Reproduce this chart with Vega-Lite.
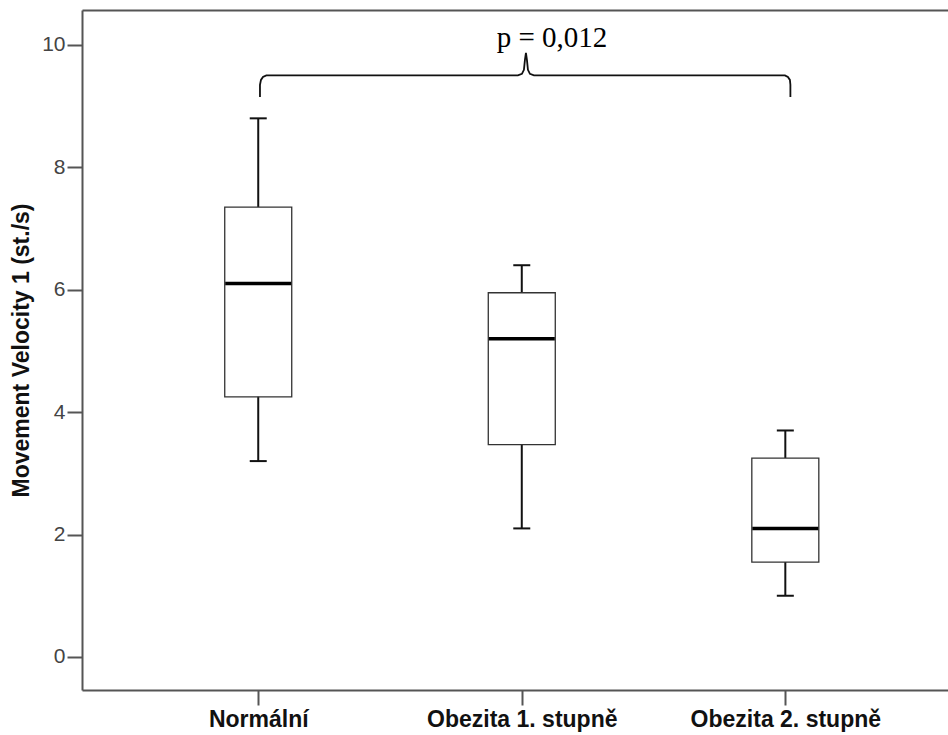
{
  "$schema": "https://vega.github.io/schema/vega-lite/v6.json",
  "width": 866,
  "height": 680,
  "autosize": {"type": "none"},
  "padding": {"left": 82, "top": 10, "right": 0, "bottom": 45},
  "background": "white",
  "config": {"view": {"stroke": null}},
  "datasets": {
    "boxes": [
      {"group": "Normální", "low": 3.2, "q1": 4.25, "median": 6.1, "q3": 7.35, "high": 8.8},
      {"group": "Obezita 1. stupně", "low": 2.1, "q1": 3.47, "median": 5.2, "q3": 5.95, "high": 6.4},
      {"group": "Obezita 2. stupně", "low": 1.0, "q1": 1.55, "median": 2.1, "q3": 3.25, "high": 3.7}
    ],
    "brace": [
      {"i": 1, "bx": 1.0075, "by": 9.15},
      {"i": 2, "bx": 1.0075, "by": 9.346},
      {"i": 3, "bx": 1.0113, "by": 9.428},
      {"i": 4, "bx": 1.0189, "by": 9.477},
      {"i": 5, "bx": 1.0315, "by": 9.502},
      {"i": 6, "bx": 1.9866, "by": 9.502},
      {"i": 7, "bx": 2.0018, "by": 9.526},
      {"i": 8, "bx": 2.0094, "by": 9.592},
      {"i": 9, "bx": 2.0132, "by": 9.755},
      {"i": 10, "bx": 2.017, "by": 9.869},
      {"i": 11, "bx": 2.0208, "by": 9.755},
      {"i": 12, "bx": 2.0246, "by": 9.592},
      {"i": 13, "bx": 2.0322, "by": 9.526},
      {"i": 14, "bx": 2.0474, "by": 9.502},
      {"i": 15, "bx": 3.0, "by": 9.502},
      {"i": 16, "bx": 3.0113, "by": 9.477},
      {"i": 17, "bx": 3.0189, "by": 9.428},
      {"i": 18, "bx": 3.0208, "by": 9.346},
      {"i": 19, "bx": 3.0208, "by": 9.15}
    ],
    "label": [
      {"bx": 2.1157, "by": 9.967, "text": "p = 0,012"}
    ]
  },
  "layer": [
    {
      "data": {"name": "boxes"},
      "layer": [
        {
          "mark": {"type": "rule", "color": "#111", "strokeWidth": 2},
          "encoding": {
            "x": {
              "field": "group", "type": "nominal", "sort": null,
              "scale": {"type": "point", "padding": 0.643, "align": 0.52},
              "axis": {
                "title": null, "labelAngle": 0, "orient": "bottom",
                "labelFont": "Liberation Sans", "labelFontWeight": "bold", "labelFontSize": 23,
                "labelColor": "#111", "labelPadding": 3, "labelLimit": 0,
                "tickSize": 15, "tickWidth": 2, "tickColor": "#555",
                "domainColor": "#555", "domainWidth": 2, "grid": false
              }
            },
            "y": {
              "field": "low", "type": "quantitative",
              "scale": {"domain": [-0.54, 10.57], "nice": false, "zero": false},
              "axis": {
                "title": "Movement Velocity 1 (st./s)",
                "titleFont": "Liberation Sans", "titleFontWeight": "bold", "titleFontSize": 23,
                "titleColor": "#111", "titlePadding": 8,
                "values": [0, 2, 4, 6, 8, 10], "format": "d",
                "labelFont": "Liberation Sans", "labelFontSize": 21, "labelColor": "#444",
                "labelPadding": 2, "tickSize": 15, "tickWidth": 2, "tickColor": "#555",
                "domainColor": "#555", "domainWidth": 2, "grid": false
              }
            },
            "y2": {"field": "high"}
          }
        },
        {
          "mark": {"type": "bar", "fill": "white", "stroke": "#333", "strokeWidth": 1.3, "size": 67},
          "encoding": {
            "x": {"field": "group", "type": "nominal", "sort": null, "scale": {"type": "point", "padding": 0.643, "align": 0.52}},
            "y": {"field": "q1", "type": "quantitative", "axis": {"title": "Movement Velocity 1 (st./s)"}},
            "y2": {"field": "q3"}
          }
        },
        {
          "mark": {"type": "tick", "color": "#000", "thickness": 3.5, "size": 66, "opacity": 1},
          "encoding": {
            "x": {"field": "group", "type": "nominal", "sort": null, "scale": {"type": "point", "padding": 0.643, "align": 0.52}},
            "y": {"field": "median", "type": "quantitative", "axis": {"title": "Movement Velocity 1 (st./s)"}}
          }
        },
        {
          "mark": {"type": "tick", "color": "#111", "thickness": 2, "size": 17, "opacity": 1},
          "encoding": {
            "x": {"field": "group", "type": "nominal", "sort": null, "scale": {"type": "point", "padding": 0.643, "align": 0.52}},
            "y": {"field": "low", "type": "quantitative", "axis": {"title": "Movement Velocity 1 (st./s)"}}
          }
        },
        {
          "mark": {"type": "tick", "color": "#111", "thickness": 2, "size": 17, "opacity": 1},
          "encoding": {
            "x": {"field": "group", "type": "nominal", "sort": null, "scale": {"type": "point", "padding": 0.643, "align": 0.52}},
            "y": {"field": "high", "type": "quantitative", "axis": {"title": "Movement Velocity 1 (st./s)"}}
          }
        }
      ]
    },
    {
      "layer": [
        {
          "data": {"name": "brace"},
          "mark": {"type": "line", "color": "#111", "strokeWidth": 1.8, "interpolate": "linear"},
          "encoding": {
            "x": {
              "field": "bx", "type": "quantitative",
              "scale": {"domain": [0.332, 3.619], "nice": false, "zero": false},
              "axis": {"orient": "top", "title": null, "labels": false, "ticks": false, "grid": false, "domainColor": "#555", "domainWidth": 2}
            },
            "y": {"field": "by", "type": "quantitative", "axis": {"title": "Movement Velocity 1 (st./s)"}},
            "order": {"field": "i", "type": "quantitative"}
          }
        },
        {
          "data": {"name": "label"},
          "mark": {"type": "text", "font": "Liberation Serif", "fontSize": 29, "color": "#000", "align": "center", "baseline": "alphabetic"},
          "encoding": {
            "x": {"field": "bx", "type": "quantitative"},
            "y": {"field": "by", "type": "quantitative", "axis": {"title": "Movement Velocity 1 (st./s)"}},
            "text": {"field": "text"}
          }
        }
      ]
    }
  ],
  "resolve": {"scale": {"x": "independent"}, "axis": {"x": "independent"}}
}
